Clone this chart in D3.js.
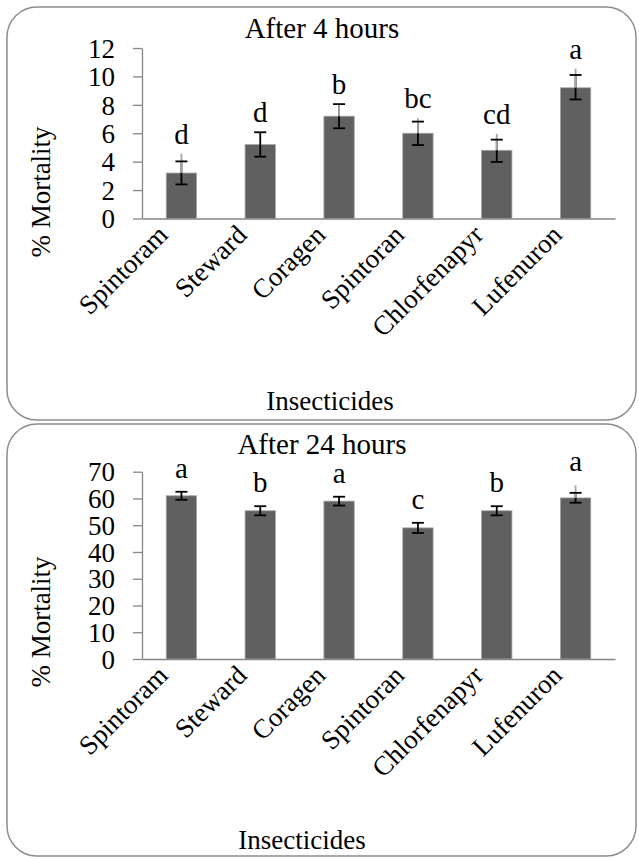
<!DOCTYPE html>
<html>
<head>
<meta charset="utf-8">
<script src="https://cdn.jsdelivr.net/npm/d3@7/dist/d3.min.js"></script>
<style>
  html, body { margin: 0; padding: 0; background: #fff; }
  svg { display: block; }
  text { font-family: "Liberation Serif", "DejaVu Serif", serif; fill: #000; }
</style>
</head>
<body>
<script>
// ---- data ----
const categories = ["Spintoram", "Steward", "Coragen", "Spintoran", "Chlorfenapyr", "Lufenuron"];

const mortality4h = [3.2, 5.2, 7.2, 6.0, 4.8, 9.2];
const errLow4h    = [0.8, 0.85, 0.85, 0.83, 0.82, 0.82];
const errHigh4h   = [0.82, 0.87, 0.85, 0.82, 0.75, 0.9];
const greyHigh4h  = [1.36, 0, 0.85, 1.05, 1.15, 1.35];
const letters4h   = ["d", "d", "b", "bc", "cd", "a"];
const yTicks4h    = [0, 2, 4, 6, 8, 10, 12];

const mortality24h = [61.0, 55.4, 59.0, 49.0, 55.4, 60.2];
const errLow24h    = [1.5, 1.7, 1.65, 1.9, 1.7, 1.8];
const errHigh24h   = [1.5, 1.7, 1.65, 1.9, 1.7, 1.9];
const greyHigh24h  = [0, 0, 0, 0, 0, 4.7];
const letters24h   = ["a", "b", "a", "c", "b", "a"];
const yTicks24h    = [0, 10, 20, 30, 40, 50, 60, 70];

const titles = ["After 4 hours", "After 24 hours"];
const xTitle = "Insecticides";
const yTitle = "% Mortality";

// ---- drawing ----
const W = 639, H = 859;
const svg = d3.select("body").append("svg").attr("width", W).attr("height", H);

function panel(cfg) {
  const g = svg.append("g");
  // frame
  g.append("rect")
    .attr("x", cfg.frame[0]).attr("y", cfg.frame[1])
    .attr("width", cfg.frame[2]).attr("height", cfg.frame[3])
    .attr("rx", 30).attr("ry", 30)
    .attr("fill", "none").attr("stroke", "#8c8c8c").attr("stroke-width", 1.5);

  const x = d3.scaleBand().domain(categories).range([142, 615])
    .paddingInner(0.615).paddingOuter(0.3075);
  const y = d3.scaleLinear().domain(cfg.domain).range(cfg.yRange);

  // y axis
  const ya = g.append("g").attr("transform", "translate(142,0)")
    .call(d3.axisLeft(y).tickValues(cfg.ticks).tickSizeInner(9).tickSizeOuter(0).tickPadding(18));
  ya.select(".domain").attr("stroke", "#868686").attr("stroke-width", 1.3);
  ya.selectAll(".tick line").attr("stroke", "#868686").attr("stroke-width", 1.3);
  ya.selectAll(".tick text").attr("font-size", 27).attr("font-family", "Liberation Serif").attr("dy", "0.34em");

  // bars
  g.selectAll(".bar").data(cfg.values).enter().append("rect")
    .attr("x", (d, i) => x(categories[i]))
    .attr("y", d => y(d))
    .attr("width", x.bandwidth())
    .attr("height", d => y(0) - y(d))
    .attr("fill", "#606060").attr("stroke", "#a6a6a6").attr("stroke-width", 0.8);

  // x axis
  const xa = g.append("g").attr("transform", `translate(0,${y(0)})`)
    .call(d3.axisBottom(x).tickSize(0).tickPadding(0));
  xa.select(".domain").attr("stroke", "#868686").attr("stroke-width", 1.3);
  xa.selectAll(".tick text")
    .attr("font-size", 27).attr("font-family", "Liberation Serif")
    .attr("text-anchor", "end")
    .attr("y", 0).attr("dy", 0)
    .attr("transform", "translate(-12,18) rotate(-45)");

  // error bars
  const cap = 6;
  cfg.values.forEach((v, i) => {
    const cx = x(categories[i]) + x.bandwidth() / 2;
    const lo = y(v - cfg.errLow[i]);
    const hi = y(v + cfg.errHigh[i]);
    g.append("line").attr("x1", cx).attr("x2", cx).attr("y1", lo).attr("y2", hi)
      .attr("stroke", "#000").attr("stroke-width", 1.8);
    if (cfg.grey[i] > 0) {
      g.append("line").attr("x1", cx).attr("x2", cx).attr("y1", y(v)).attr("y2", y(v + cfg.grey[i]))
        .attr("stroke", "#a6a6a6").attr("stroke-width", 1.8);
    }
    [lo, hi].forEach(yy => {
      g.append("line").attr("x1", cx - cap).attr("x2", cx + cap).attr("y1", yy).attr("y2", yy)
        .attr("stroke", "#000").attr("stroke-width", 1.8);
    });
    const top = Math.min(hi, y(v + cfg.grey[i]));
    g.append("text").attr("x", cx).attr("y", top - cfg.letterGap)
      .attr("text-anchor", "middle").attr("font-size", 29).text(cfg.letters[i]);
  });

  // titles
  g.append("text").attr("x", cfg.titlePos[0]).attr("y", cfg.titlePos[1])
    .attr("text-anchor", "middle").attr("font-size", 29).text(cfg.title);
  g.append("text").attr("x", cfg.xTitlePos[0]).attr("y", cfg.xTitlePos[1])
    .attr("text-anchor", "middle").attr("font-size", 27).text(xTitle);
  g.append("text")
    .attr("transform", `translate(${cfg.yTitlePos[0]},${cfg.yTitlePos[1]}) rotate(-90)`)
    .attr("text-anchor", "middle").attr("font-size", 27).text(yTitle);
}

panel({
  frame: [7, 7, 629, 413],
  domain: [0, 12], yRange: [218.5, 48], ticks: yTicks4h,
  values: mortality4h, errLow: errLow4h, errHigh: errHigh4h, grey: greyHigh4h,
  letters: letters4h, letterGap: 10,
  title: titles[0], titlePos: [322, 38],
  xTitlePos: [330, 410], yTitlePos: [50, 192]
});

panel({
  frame: [7, 424, 629, 432],
  domain: [0, 70], yRange: [659, 471.7], ticks: yTicks24h,
  values: mortality24h, errLow: errLow24h, errHigh: errHigh24h, grey: greyHigh24h,
  letters: letters24h, letterGap: 14,
  title: titles[1], titlePos: [322, 454],
  xTitlePos: [302, 849], yTitlePos: [50, 622]
});
</script>
</body>
</html>
